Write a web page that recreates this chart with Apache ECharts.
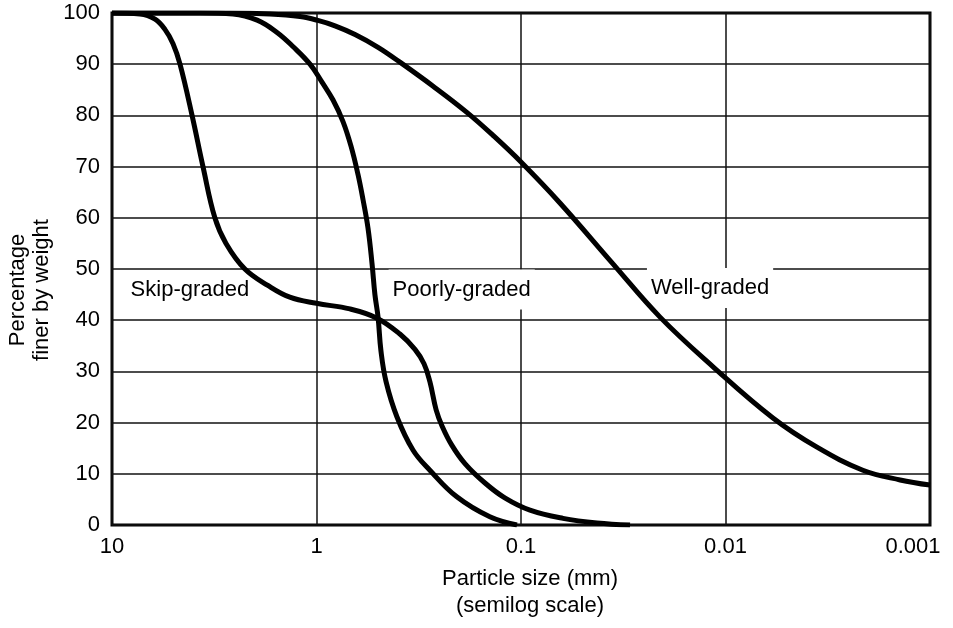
<!DOCTYPE html>
<html>
<head>
<meta charset="utf-8">
<script src="https://cdn.jsdelivr.net/npm/echarts@6/dist/echarts.min.js"></script>
<style>
  html, body { margin: 0; padding: 0; background: #fff; }
  #chart { width: 953px; height: 628px; }
</style>
</head>
<body>
<div id="chart"></div>
<script>
// particle size (mm) vs percentage finer
const skipSize = [10, 7.30, 6.16, 5.51, 5.03, 4.65, 4.06, 3.59, 3.14, 2.77, 2.24, 1.73, 1.35, 1.0, 0.686, 0.506, 0.391, 0.330, 0.298, 0.279, 0.260, 0.243, 0.218, 0.188, 0.150, 0.120, 0.0904, 0.0623, 0.0425, 0.0293];
const skipPct = [100, 99.8, 98.8, 96.8, 94, 90, 80, 70, 60, 55, 50, 46.8, 44.5, 43.3, 42.2, 40.4, 37.3, 34.3, 31.5, 28, 22.5, 19.3, 15.6, 12, 8.2, 5.3, 2.9, 1.3, 0.4, 0];

const poorSize = [10, 3.71, 2.56, 1.95, 1.56, 1.30, 1.076, 0.940, 0.830, 0.742, 0.678, 0.627, 0.592, 0.560, 0.535, 0.518, 0.500, 0.484, 0.457, 0.404, 0.337, 0.279, 0.206, 0.142, 0.1046];
const poorPct = [100, 100, 99.8, 98.6, 96.2, 93.4, 90, 86.5, 83, 78.8, 74, 68.5, 63.5, 58, 51, 45, 40.6, 34, 28, 21.1, 14.6, 10.7, 5.5, 1.6, 0];

const wellSize = [10, 2.65, 1.69, 1.204, 0.995, 0.812, 0.648, 0.500, 0.391, 0.269, 0.184, 0.137, 0.1, 0.0645, 0.0355, 0.0209, 0.0115, 0.00586, 0.00357, 0.00213, 0.0014, 0.001];
const wellPct = [100, 100, 99.8, 99.3, 98.6, 97.5, 95.8, 93.3, 90.4, 85.7, 80.6, 76.1, 70.9, 62.9, 51, 40.6, 30.9, 20.9, 15.2, 10.7, 8.8, 7.8];

const curveNames = ['Skip-graded', 'Poorly-graded', 'Well-graded'];
const labelSize = [4.16, 0.195, 0.0119];
const labelPct = [45.9, 46, 46.3];

const xTickLabels = { 0.001: '0.001', 0.01: '0.01', 0.1: '0.1', 1: '1', 10: '10' };
const yTicks = [0, 10, 20, 30, 40, 50, 60, 70, 80, 90, 100];

const font = '"Liberation Sans", Arial, Helvetica, sans-serif';
const fs = 22;

const pairs = (xs, ys) => xs.map((x, i) => [x, ys[i]]);

const curve = (name, xs, ys) => ({
  name: name,
  type: 'line',
  data: pairs(xs, ys),
  smooth: 0.4,
  symbol: 'none',
  z: 3,
  lineStyle: { color: '#000', width: 5 },
  silent: true
});

const chart = echarts.init(document.getElementById('chart'), null, { renderer: 'canvas' });

chart.setOption({
  backgroundColor: '#fff',
  animation: false,
  textStyle: { fontFamily: font },
  grid: {
    left: 112,
    right: 23,
    top: 13,
    bottom: 103,
    show: true,
    borderColor: '#000',
    borderWidth: 3,
    backgroundColor: 'transparent'
  },
  xAxis: {
    type: 'log',
    logBase: 10,
    min: 0.001,
    max: 10,
    inverse: true,
    name: 'Particle size (mm)\n(semilog scale)',
    nameLocation: 'middle',
    nameGap: 40,
    nameTextStyle: {
      fontFamily: font,
      fontSize: fs,
      color: '#000',
      lineHeight: 27,
      padding: [0, 0, 0, 18]
    },
    axisLine: { show: false },
    axisTick: { show: false },
    axisLabel: {
      margin: 11,
      fontSize: fs,
      color: '#000',
      fontFamily: font,
      formatter: function (v) {
        const key = Number(v.toPrecision(3));
        const txt = xTickLabels[key] !== undefined ? xTickLabels[key] : '';
        return key === 0.001 ? '{last|' + txt + '}' : txt;
      },
      rich: {
        last: { fontSize: fs, fontFamily: font, color: '#000', padding: [0, 34, 0, 0] }
      }
    },
    splitLine: { show: true, lineStyle: { color: '#111', width: 1.5 } }
  },
  yAxis: {
    type: 'value',
    min: yTicks[0],
    max: yTicks[yTicks.length - 1],
    interval: 10,
    axisLine: { show: false },
    axisTick: { show: false },
    axisLabel: {
      margin: 12,
      fontSize: fs,
      color: '#000',
      fontFamily: font
    },
    splitLine: { show: true, lineStyle: { color: '#111', width: 1.5 } }
  },
  graphic: [{
    type: 'text',
    x: 30,
    y: 290,
    rotation: Math.PI / 2,
    style: {
      text: 'Percentage\nfiner by weight',
      fontFamily: font,
      fontSize: fs,
      lineHeight: 24,
      fill: '#000',
      align: 'center',
      verticalAlign: 'middle'
    }
  }],
  series: [
    curve(curveNames[0], skipSize, skipPct),
    curve(curveNames[1], poorSize, poorPct),
    curve(curveNames[2], wellSize, wellPct),
    {
      type: 'scatter',
      z: 1,
      silent: true,
      symbolSize: 0,
      data: labelSize.map((x, i) => [x, labelPct[i], curveNames[i]]),
      label: {
        show: true,
        position: 'inside',
        formatter: p => p.value[2],
        fontFamily: font,
        fontSize: fs,
        color: '#000',
        opacity: 1,
        backgroundColor: '#fff',
        padding: [9, 4, 9, 4]
      }
    }
  ]
});
</script>
</body>
</html>
